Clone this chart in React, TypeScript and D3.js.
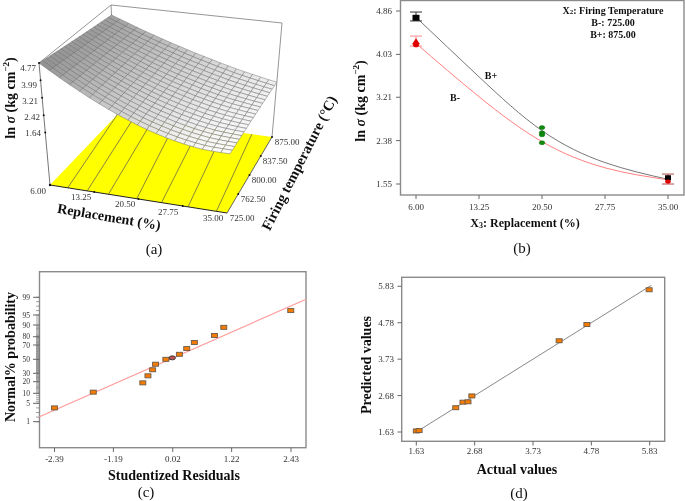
import React from "react";
import * as d3 from "d3";

// ---------- panel (a): response surface ----------
const surfaceFront = [4.77,4.46,4.16,3.88,3.62,3.37,3.14,2.93,2.73,2.55,2.38,2.23,2.10,1.98,1.88,1.79,1.72,1.66,1.63,1.61,1.60];
const surfaceBack = [4.27,4.11,3.95,3.79,3.64,3.50,3.36,3.22,3.10,2.97,2.85,2.74,2.63,2.52,2.42,2.32,2.23,2.15,2.07,1.99,1.92];
const contourFront = [0.10,0.21,0.33,0.49,0.63,0.78,0.94];
const contourBack = [0.0,0.11,0.23,0.375,0.535,0.69,0.87];
const zTicks = ["4.77","3.99","3.21","2.42","1.64"];
const aXTicks = ["6.00","13.25","20.50","27.75","35.00"];
const aTTicks = ["725.00","762.50","800.00","837.50","875.00"];

// ---------- panel (b): interaction ----------
const bX = [6,13.25,20.5,27.75,35];
const bPlus = [4.74,3.6,2.57,1.96,1.64];
const bMinus = [4.24,3.22,2.36,1.86,1.63];
const bXTicks = ["6.00","13.25","20.50","27.75","35.00"];
const bYTicks = ["4.86","4.03","3.21","2.38","1.55"];
const greenPoints = [2.63,2.53,2.49,2.34];
const blackBars = [[6,4.67,4.84]];
const redBars = [[6,4.19,4.38],[35,1.55,1.74]];

// ---------- panel (c): normal probability ----------
const probTicks = [1,5,10,20,30,50,70,80,90,95,99];
const probPixels = [421.7,403.3,393.3,381.7,373.3,359.3,345,336.7,325,315,297.3];
const cXTicks = [-2.39,-1.19,0.02,1.22,2.43];
const cResiduals = [-2.39,-1.60,-0.59,-0.485,-0.39,-0.33,-0.12,0.155,0.305,0.46,0.87,1.06,2.425];
const cProbs = [4,11,19,27,35,43,50,57,65,73,81,88,96];
const cHighlight = [0.01,52];
const cLineX = [-2.696,2.736];
const minorProbs = d3.range(1,100,1);

// ---------- panel (d): predicted vs actual ----------
const dTicks = [1.63,2.68,3.73,4.78,5.83];
const dActual = [1.63,1.68,2.34,2.47,2.56,2.63,4.20,4.70,5.82];
const dPredicted = [1.66,1.67,2.33,2.49,2.50,2.67,4.26,4.73,5.73];
const dLine = [1.63,5.86];

const FONT = "'Liberation Serif', serif";
const FRAME = "#8a8a8a";
const TICK = "#666";
const LBL = "#333";

type Pt = [number, number];
const lerp = (a: number, b: number, t: number) => a + (b - a) * t;
const bil = (fl: Pt, fr: Pt, br: Pt, bl: Pt, u: number, v: number): Pt => [
  lerp(lerp(fl[0], fr[0], u), lerp(bl[0], br[0], u), v),
  lerp(lerp(fl[1], fr[1], u), lerp(bl[1], br[1], u), v),
];
const floorC: Pt[] = [[50,185],[227,213],[272,137],[117,115]];
const topC: Pt[] = [[39,63],[234,73],[282,23],[111,5]];
const zToT = d3.scaleLinear().domain([-0.72,4.77]).range([0,1]);
const proj = (u: number, v: number, z: number): Pt => {
  const f = bil(floorC[0],floorC[1],floorC[2],floorC[3],u,v);
  const t = bil(topC[0],topC[1],topC[2],topC[3],u,v);
  const k = zToT(z);
  return [lerp(f[0],t[0],k), lerp(f[1],t[1],k)];
};
const zFloor = -0.72;
const shade = d3.scaleLinear<string>().domain([1.6,2.4,4.77]).range(["#fbfbfb","#dcdcdc","#8e8e8e"]);

const Txt = (p: any) => (
  <text fontFamily={FONT} fill={p.fill ?? "#111"} textAnchor={p.anchor ?? "middle"} dominantBaseline="central"
    fontSize={p.size ?? 9} fontWeight={p.bold ? 700 : 400}
    transform={`translate(${p.x},${p.y})${p.rot ? ` rotate(${p.rot})` : ""}`}>{p.children}</text>
);

const LnTitle = ({ x, y, size }: any) => (
  <Txt x={x} y={y} rot={-90} size={size} bold>
    ln <tspan fontStyle="italic">σ</tspan> (kg cm<tspan dy={-4} fontSize={size * 0.65}>−2</tspan><tspan dy={4}>)</tspan>
  </Txt>
);

function PanelA() {
  const n = surfaceFront.length - 1;
  const cells: React.ReactNode[] = [];
  for (let j = n - 1; j >= 0; j--) {
    for (let i = 0; i < n; i++) {
      const z = (a: number, b: number) => lerp(surfaceFront[a], surfaceBack[a], b / n);
      const pts = [proj(i/n,j/n,z(i,j)),proj((i+1)/n,j/n,z(i+1,j)),proj((i+1)/n,(j+1)/n,z(i+1,j+1)),proj(i/n,(j+1)/n,z(i,j+1))];
      cells.push(<polygon key={`${i}-${j}`} points={pts.map(p=>p.join(",")).join(" ")} fill={shade((z(i,j)+z(i+1,j+1))/2)} stroke="#666" strokeWidth={0.45}/>);
    }
  }
  const F = (u:number,v:number) => proj(u,v,zFloor);
  const seg = (a:Pt,b:Pt,stroke:string,w:number,key:string) => <line key={key} x1={a[0]} y1={a[1]} x2={b[0]} y2={b[1]} stroke={stroke} strokeWidth={w}/>;
  const zVal = [4.77,3.99,3.21,2.42,1.64];
  const zLabelPos: Pt[] = [[28,68],[29,85],[30,101],[32,117],[33,133]];
  const xLabelPos: Pt[] = [[38,191],[81,197],[125,204],[168,212],[213,218]];
  const tLabelPos: Pt[] = [[242,218],[253,199],[264,180],[275,161],[287,142]];
  return (
    <g>
      <polygon points={[F(0,0),F(1,0),F(1,1),F(0,1)].map(p=>p.join(",")).join(" ")} fill="#ffff00"/>
      {contourFront.map((u,i)=>seg(F(u,0),F(contourBack[i],1),"#555",0.7,`c${i}`))}
      {seg(floorC[3],topC[3],FRAME,0.9,"e1")}
      {seg(topC[3],topC[2],FRAME,0.9,"e2")}
      {seg(topC[2],floorC[2],FRAME,0.9,"e3")}
      {seg(topC[3],topC[0],FRAME,0.9,"e4")}
      {seg(floorC[0],topC[0],"#666",0.9,"e5")}
      {cells}
      {seg(floorC[0],floorC[1],"#222",1,"b1")}
      {seg(floorC[1],floorC[2],"#555",0.9,"b2")}
      {[0.25,0.5,0.75].map(u=>{const p=F(u,0);return <circle key={u} cx={p[0]} cy={p[1]} r={1} fill="#111"/>;})}
      {[0.25,0.5,0.75,1].map(v=>{const p=F(1,v);return <circle key={v} cx={p[0]} cy={p[1]} r={1} fill="#111"/>;})}
      {zVal.map(z=>{const p=proj(0,0,z);return <circle key={z} cx={p[0]} cy={p[1]} r={1} fill="#111"/>;})}
      <circle cx={50} cy={185} r={1.2} fill="#111"/>
      {zTicks.map((t,i)=><Txt key={t} x={zLabelPos[i][0]} y={zLabelPos[i][1]} fill={LBL}>{t}</Txt>)}
      {aXTicks.map((t,i)=><Txt key={t} x={xLabelPos[i][0]} y={xLabelPos[i][1]} fill={LBL}>{t}</Txt>)}
      {aTTicks.map((t,i)=><Txt key={t} x={tLabelPos[i][0]} y={tLabelPos[i][1]} fill={LBL}>{t}</Txt>)}
      <LnTitle x={10} y={98} size={14}/>
      <Txt x={109} y={217} rot={9.5} size={14} bold>Replacement (%)</Txt>
      <Txt x={299} y={163} rot={-63} size={14.5} bold>Firing temperature (°C)</Txt>
      <Txt x={154} y={249} size={15}>(a)</Txt>
    </g>
  );
}

function PanelB() {
  const x = d3.scaleLinear().domain([6,35]).range([416,668]);
  const y = d3.scaleLinear().domain([1.55,4.86]).range([184,11]);
  const line = d3.line<number>().x((_,i)=>x(bX[i])).y(d=>y(d)).curve(d3.curveNatural);
  const bar = (b:number[],c:string,k:string)=>(
    <g key={k} stroke={c} strokeWidth={1} fill="none">
      <line x1={x(b[0])} x2={x(b[0])} y1={y(b[1])} y2={y(b[2])}/>
      <line x1={x(b[0])-6} x2={x(b[0])+6} y1={y(b[1])} y2={y(b[1])}/>
      <line x1={x(b[0])-6} x2={x(b[0])+6} y1={y(b[2])} y2={y(b[2])}/>
    </g>
  );
  return (
    <g>
      <rect x={400.5} y={0.5} width={283.5} height={194.5} fill="none" stroke={FRAME} strokeWidth={1.4}/>
      {bXTicks.map(t=><g key={t}><line x1={x(+t)} x2={x(+t)} y1={195} y2={199} stroke={TICK}/><Txt x={x(+t)} y={207} fill={LBL}>{t}</Txt></g>)}
      {bYTicks.map(t=><g key={t}><line x1={396} x2={400} y1={y(+t)} y2={y(+t)} stroke={TICK}/><Txt x={392} y={y(+t)} anchor="end" fill={LBL}>{t}</Txt></g>)}
      <path d={line(bPlus)!} fill="none" stroke="#777" strokeWidth={1}/>
      <path d={line(bMinus)!} fill="none" stroke="#ff8080" strokeWidth={1}/>
      {redBars.map((b,i)=>bar(b,i===0?"#f88":"#b54a4a",`r${i}`))}
      {blackBars.map((b,i)=>bar(b,"#333",`k${i}`))}
      <rect x={x(6)-3.5} y={y(4.73)-3} width={7} height={6} fill="#000"/>
      <path d={`M${x(6)},${y(4.32)-1}l4,6h-8z`} fill="#e00000"/>
      <ellipse cx={x(6)} cy={y(4.21)} rx={3} ry={2.3} fill="#e00000"/>
      {greenPoints.map(g=><ellipse key={g} cx={x(20.5)} cy={y(g)} rx={2.8} ry={2} fill="#0a8a0a" stroke="#0a6a0a" strokeWidth={0.4}/>)}
      <rect x={x(35)-3} y={y(1.66)-3} width={6} height={5} fill="#000"/>
      <ellipse cx={x(35)} cy={y(1.6)} rx={2.8} ry={2} fill="#e00000"/>
      <Txt x={613} y={10} size={10} bold>X<tspan dy={2} fontSize={7}>2</tspan><tspan dy={-2}>: Firing Temperature</tspan></Txt>
      <Txt x={613} y={22} size={10} bold>B-: 725.00</Txt>
      <Txt x={613} y={34} size={10} bold>B+: 875.00</Txt>
      <Txt x={491} y={75} size={10} bold>B+</Txt>
      <Txt x={455} y={97} size={10} bold>B-</Txt>
      <LnTitle x={360} y={101} size={14}/>
      <Txt x={525} y={223} size={12} bold>X<tspan dy={2} fontSize={8}>3</tspan><tspan dy={-2}>: Replacement (%)</tspan></Txt>
      <Txt x={522} y={248} size={15}>(b)</Txt>
    </g>
  );
}

function PanelC() {
  const x = d3.scaleLinear().domain([-2.39,2.43]).range([54.5,291]);
  const y = d3.scaleLinear().domain(probTicks).range(probPixels).clamp(true);
  return (
    <g>
      <rect x={39.5} y={271.7} width={266.5} height={176} fill="none" stroke={FRAME} strokeWidth={1.4}/>
      {minorProbs.map((p,i)=><line key={i} x1={36} x2={39.5} y1={y(p)} y2={y(p)} stroke="#777" strokeWidth={0.7}/>)}
      {probTicks.map(p=><g key={p}><line x1={33} x2={39.5} y1={y(p)} y2={y(p)} stroke={TICK}/><Txt x={30} y={y(p)} anchor="end" fill={LBL} size={7.5}>{p}</Txt></g>)}
      {cXTicks.map(t=><g key={t}><line x1={x(t)} x2={x(t)} y1={447.7} y2={452} stroke={TICK}/><Txt x={x(t)} y={459} fill={LBL}>{t.toFixed(2)}</Txt></g>)}
      <line x1={x(cLineX[0])} x2={x(cLineX[1])} y1={416.7} y2={299.3} stroke="#ff9a9a" strokeWidth={1.1}/>
      {cResiduals.map((r,i)=><rect key={i} x={x(r)-3} y={y(cProbs[i])-2} width={6} height={4} fill="#f57c00" stroke="#6b5a4a" strokeWidth={0.9}/>)}
      <ellipse cx={x(cHighlight[0])} cy={y(cHighlight[1])} rx={3.2} ry={2} fill="#c0504d" stroke="#333" strokeWidth={0.9}/>
      <Txt x={10} y={357} rot={-90} size={14} bold>Normal% probability</Txt>
      <Txt x={174} y={475} size={14} bold>Studentized Residuals</Txt>
      <Txt x={146} y={492} size={15}>(c)</Txt>
    </g>
  );
}

function PanelD() {
  const x = d3.scaleLinear().domain([1.63,5.83]).range([416.3,649.7]);
  const y = d3.scaleLinear().domain([1.63,5.83]).range([432,286.3]);
  return (
    <g>
      <rect x={401.7} y={277.3} width={263} height={164} fill="none" stroke={FRAME} strokeWidth={1.4}/>
      {dTicks.map(t=><g key={t}>
        <line x1={x(t)} x2={x(t)} y1={441.3} y2={445.5} stroke={TICK}/>
        <Txt x={x(t)} y={451} fill={LBL}>{t.toFixed(2)}</Txt>
        <line x1={397.5} x2={401.7} y1={y(t)} y2={y(t)} stroke={TICK}/>
        <Txt x={394} y={y(t)} anchor="end" fill={LBL}>{t.toFixed(2)}</Txt>
      </g>)}
      <line x1={x(dLine[0])} x2={x(dLine[1])} y1={y(dLine[0])} y2={y(dLine[1])} stroke="#888" strokeWidth={1}/>
      {dActual.map((a,i)=><rect key={i} x={x(a)-3} y={y(dPredicted[i])-2} width={6} height={4} fill="#f57c00" stroke="#6b5a4a" strokeWidth={0.9}/>)}
      <Txt x={366} y={365} rot={-90} size={14} bold>Predicted values</Txt>
      <Txt x={517} y={469} size={14} bold>Actual values</Txt>
      <Txt x={519} y={493} size={15}>(d)</Txt>
    </g>
  );
}

export default function App() {
  return (
    <svg width={685} height={501} viewBox="0 0 685 501" style={{position:"absolute",left:0,top:0,background:"#fff"}}>
      <defs><filter id="soft" x="0" y="0" width="1" height="1"><feGaussianBlur stdDeviation="0.35"/></filter></defs>
      <g filter="url(#soft)">
        <rect width={685} height={501} fill="#fff"/>
        <PanelA/><PanelB/><PanelC/><PanelD/>
      </g>
    </svg>
  );
}
